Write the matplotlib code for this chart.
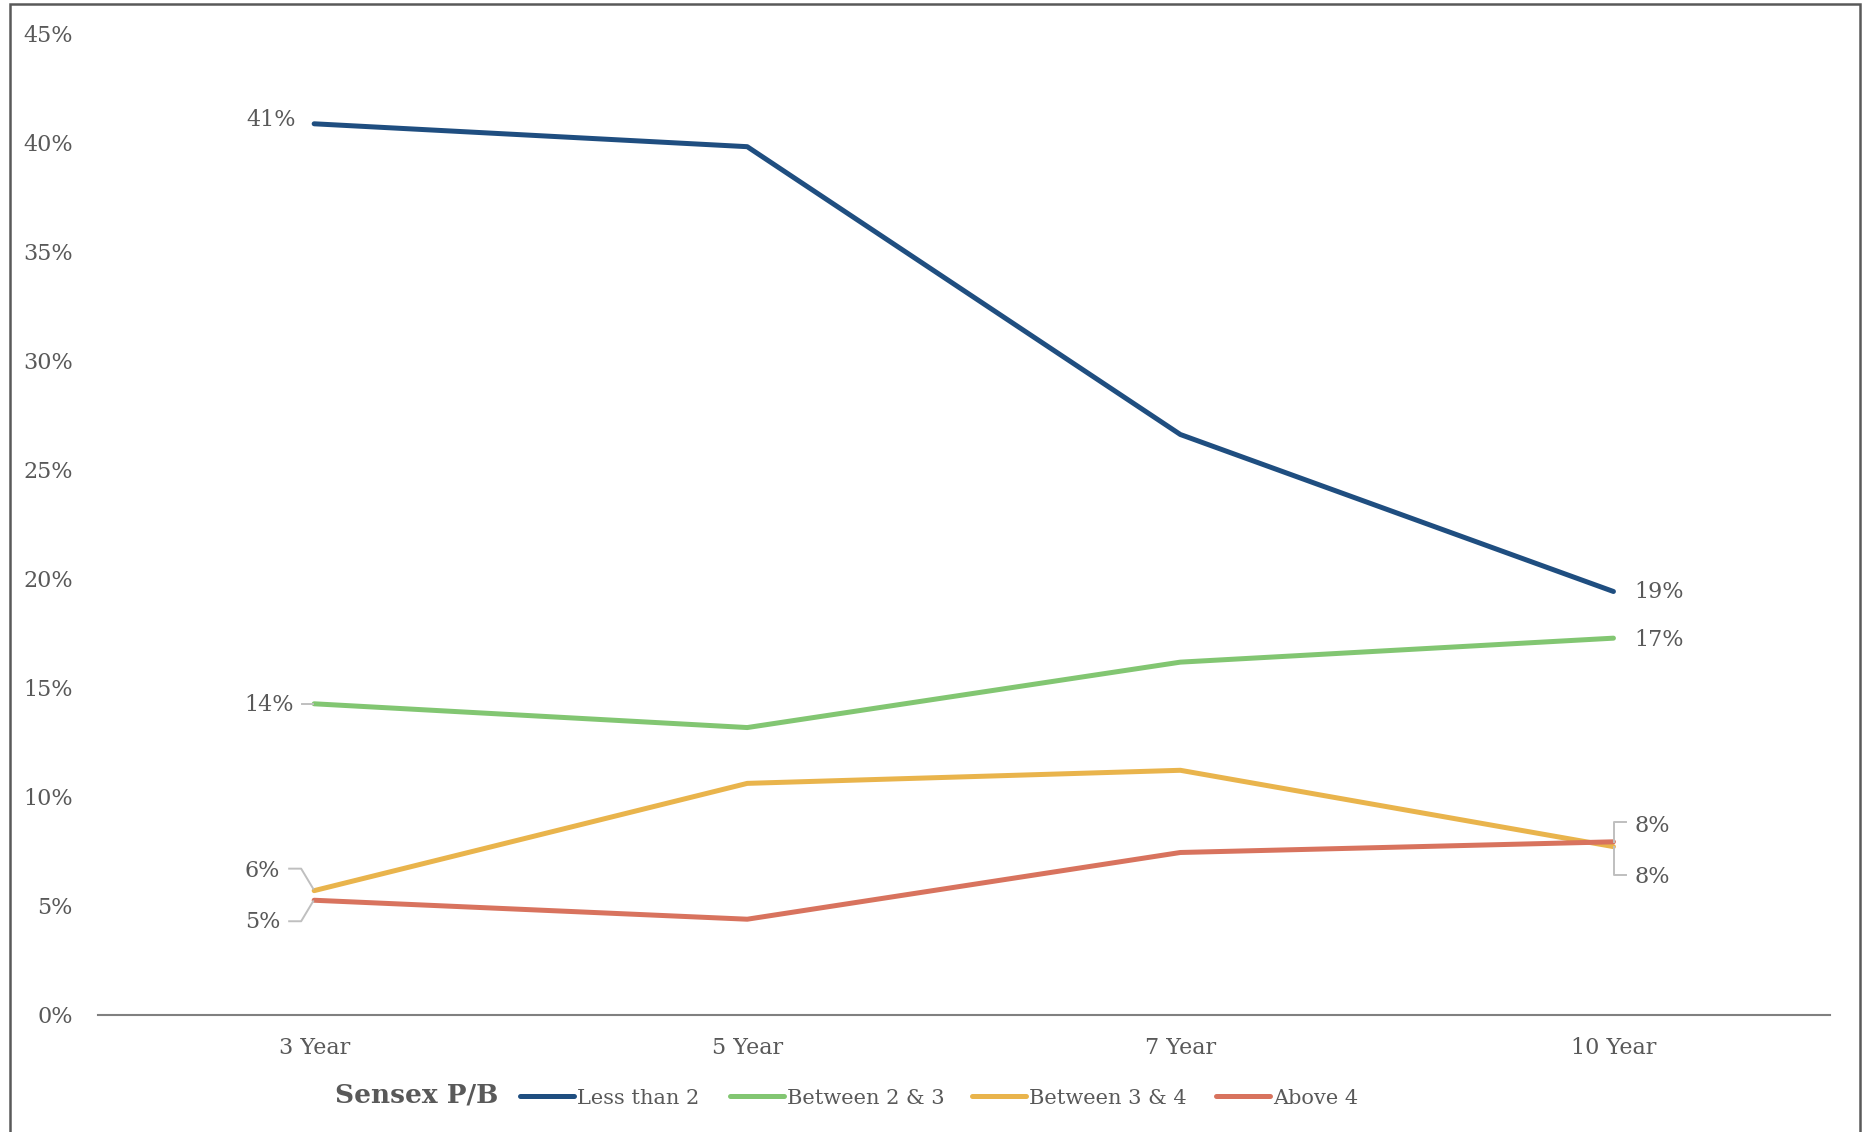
import matplotlib
matplotlib.use("Agg")
import matplotlib.pyplot as plt
from matplotlib.lines import Line2D
from matplotlib.patches import Rectangle
from matplotlib.transforms import IdentityTransform

categories = ["3 Year", "5 Year", "7 Year", "10 Year"]
less_than_2 = [0.4085, 0.398, 0.266, 0.194]
between_2_3 = [0.1425, 0.1316, 0.1616, 0.1726]
between_3_4 = [0.0568, 0.106, 0.112, 0.077]
above_4 = [0.0524, 0.0437, 0.0743, 0.0792]
series_names = ["Less than 2", "Between 2 & 3", "Between 3 & 4", "Above 4"]
series_colors = ["#1F4E80", "#82C672", "#E9B44C", "#D8735E"]
yticks = [0, 0.05, 0.10, 0.15, 0.20, 0.25, 0.30, 0.35, 0.40, 0.45]
legend_title = "Sensex P/B"

W, H = 1867, 1132
plt.rcParams['font.family'] = ['DejaVu Serif']
TXT = '#595959'
FS = 16

fig = plt.figure(figsize=(W / 100, H / 100), dpi=100)
ax = fig.add_axes([97.6 / W, 1 - 1014.5 / H, (1830 - 97.6) / W, (1014.5 - 33.3) / H])

all_series = [less_than_2, between_2_3, between_3_4, above_4]
x = list(range(len(categories)))
lines = []
for vals, name, col in zip(all_series, series_names, series_colors):
    ln, = ax.plot(x, vals, color=col, lw=3.6, solid_capstyle='round', label=name)
    lines.append(ln)

ax.set_xlim(-0.5, 3.5)
ax.set_ylim(0, 0.45)
ax.set_yticks(yticks)
ax.set_yticklabels([f"{int(round(v * 100))}%" for v in yticks])
ax.set_xticks(x)
ax.set_xticklabels(categories)
ax.tick_params(axis='y', length=0, pad=18, labelsize=FS, labelcolor=TXT)
ax.tick_params(axis='x', length=0, pad=16, labelsize=FS, labelcolor=TXT)
for s in ['top', 'right', 'left']:
    ax.spines[s].set_visible(False)
ax.spines['bottom'].set_color('#808080')
ax.spines['bottom'].set_linewidth(1.5)

# data labels (offsets in pixels)
def lab(xi, v, dx, dy, ha):
    ax.annotate(f"{int(round(v * 100))}%", (xi, v), xytext=(dx, dy), textcoords='offset pixels',
                ha=ha, va='center', fontsize=FS, color=TXT)

lab(0, less_than_2[0], -18, 4, 'right')
lab(3, less_than_2[3], 21, -1, 'left')
lab(0, between_2_3[0], -20, -1, 'right')
lab(3, between_2_3[3], 21, -2, 'left')
lab(0, between_3_4[0], -34, 20, 'right')
lab(0, above_4[0], -34, -22, 'right')
lab(3, above_4[3], 21, 16, 'left')
lab(3, between_3_4[3], 21, -30, 'left')

# leader lines
fig.canvas.draw()
def px(xi, v):
    return ax.transData.transform((xi, v))

def leader(pts):
    xs = [p[0] for p in pts]
    ys = [p[1] for p in pts]
    fig.add_artist(Line2D(xs, ys, transform=IdentityTransform(), color='#BFBFBF', lw=1.4, zorder=1))

p = px(0, between_2_3[0])
leader([(p[0] - 12, p[1]), (p[0] - 1, p[1])])
p = px(0, between_3_4[0])
leader([(p[0] - 25, p[1] + 22), (p[0] - 13, p[1] + 22), (p[0] - 1, p[1] + 2)])
p = px(0, above_4[0])
leader([(p[0] - 25, p[1] - 21), (p[0] - 13, p[1] - 21), (p[0] - 1, p[1] - 1)])
p = px(3, above_4[3])
leader([(p[0] + 1, p[1]), (p[0] + 1, p[1] + 20), (p[0] + 13, p[1] + 20)])
p = px(3, between_3_4[3])
leader([(p[0] + 1, p[1]), (p[0] + 1, p[1] - 28), (p[0] + 13, p[1] - 28)])

# legend
fig.text(335 / W, 1 - 1095 / H, legend_title, ha='left', va='center', fontsize=19,
         fontweight='bold', color=TXT)
handle_starts = [520, 730, 972, 1216]
for ln, name, hx in zip(lines, series_names, handle_starts):
    fig.legend(handles=[ln], labels=[name], loc='center left',
               bbox_to_anchor=(hx / W, 1 - 1098 / H), frameon=False,
               fontsize=15, handlelength=2.6, handletextpad=0.12,
               borderpad=0, borderaxespad=0, labelcolor=TXT)

# outer frame
fig.add_artist(Rectangle((10 / W, -0.05), (1860 - 10) / W, (1 - 4 / H) + 0.05,
                         transform=fig.transFigure, fill=False, edgecolor='#595959', lw=1.8))

fig.savefig("out.png", dpi=100)
